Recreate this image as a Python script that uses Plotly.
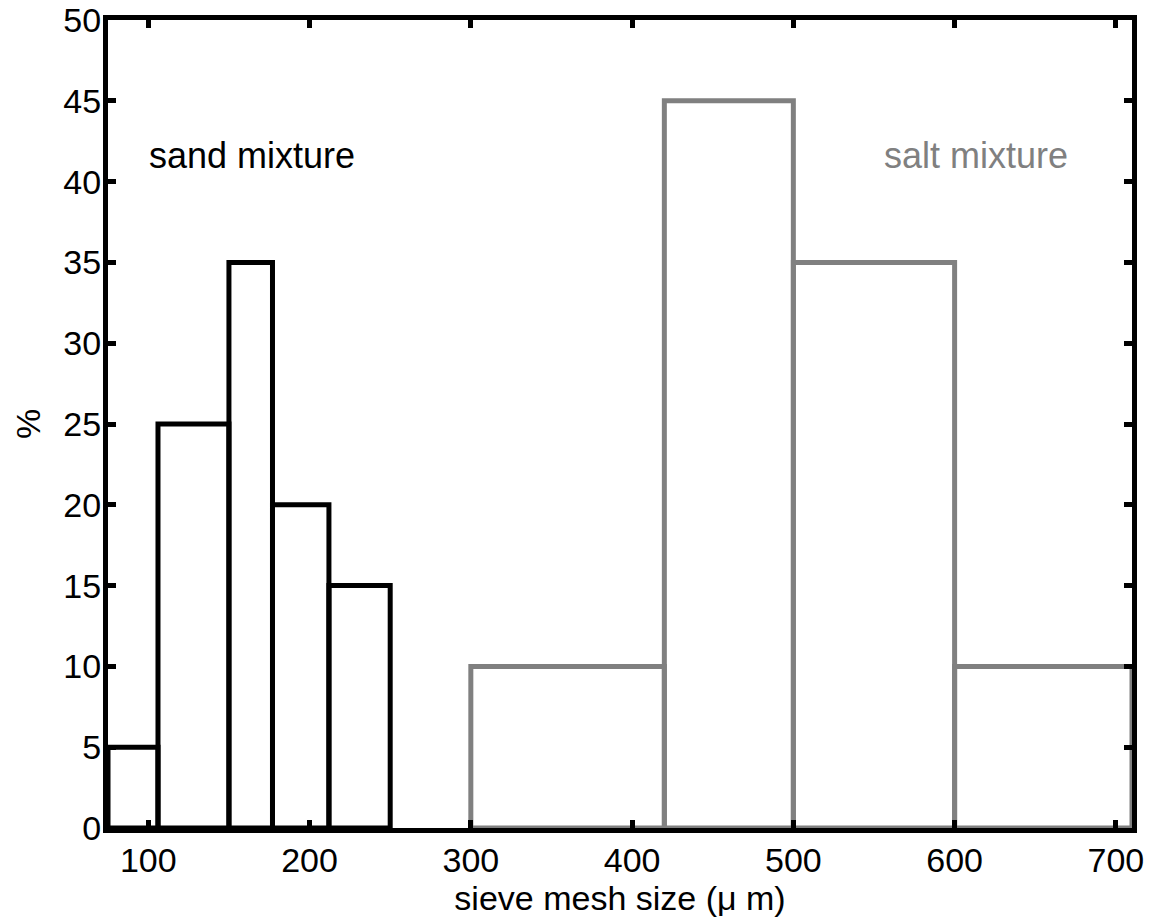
import plotly.graph_objects as go

# Sieve bin edges (µm) and percentages
sand_edges = [75, 106, 150, 177, 212, 250]
sand_pct = [5, 25, 35, 20, 15]
salt_edges = [300, 420, 500, 600, 710]
salt_pct = [10, 45, 35, 10]

x_ticks = [100, 200, 300, 400, 500, 600, 700]
y_ticks = [0, 5, 10, 15, 20, 25, 30, 35, 40, 45, 50]


def centers_widths(edges):
    c = [(a + b) / 2 for a, b in zip(edges[:-1], edges[1:])]
    w = [b - a for a, b in zip(edges[:-1], edges[1:])]
    return c, w


sc, sw = centers_widths(sand_edges)
tc, tw = centers_widths(salt_edges)

FONT = "Liberation Sans, Arial, sans-serif"

fig = go.Figure()
fig.add_trace(go.Bar(x=sc, y=sand_pct, width=sw,
                     marker=dict(color="rgba(0,0,0,0)",
                                 line=dict(color="black", width=5)),
                     showlegend=False))
fig.add_trace(go.Bar(x=tc, y=salt_pct, width=tw,
                     marker=dict(color="rgba(0,0,0,0)",
                                 line=dict(color="#808080", width=5)),
                     showlegend=False))

fig.add_annotation(x=99, y=41.6, text="sand mixture", showarrow=False,
                   xanchor="left", yanchor="middle",
                   font=dict(family=FONT, size=36, color="black"))
fig.add_annotation(x=555, y=41.6, text="salt mixture", showarrow=False,
                   xanchor="left", yanchor="middle",
                   font=dict(family=FONT, size=36, color="#808080"))
# y-axis title placed closer to the page edge, as in the reference
fig.add_annotation(xref="paper", yref="paper", x=0, y=0.5, xshift=-80,
                   text="%", textangle=-90, showarrow=False,
                   xanchor="center", yanchor="middle",
                   font=dict(family=FONT, size=34, color="black"))

axis_common = dict(showgrid=False, zeroline=False, showline=True,
                   linecolor="black", linewidth=5, mirror="ticks",
                   ticks="inside", ticklen=8, tickwidth=5, tickcolor="black",
                   automargin=False,
                   tickfont=dict(family=FONT, size=34, color="black"))

fig.update_xaxes(range=[75, 710], tickvals=x_ticks,
                 title=dict(text="sieve mesh size (\u03bc m)", standoff=0,
                            font=dict(family=FONT, size=34, color="black")),
                 ticklabelstandoff=-2,
                 **axis_common)
fig.update_yaxes(range=[0, 50], tickvals=y_ticks,
                 ticklabelstandoff=-5,
                 **axis_common)

fig.update_layout(width=1153, height=919, barmode="overlay",
                  margin=dict(l=108, r=21, t=20, b=91),
                  plot_bgcolor="white", paper_bgcolor="white")

fig.write_html("out.html")
